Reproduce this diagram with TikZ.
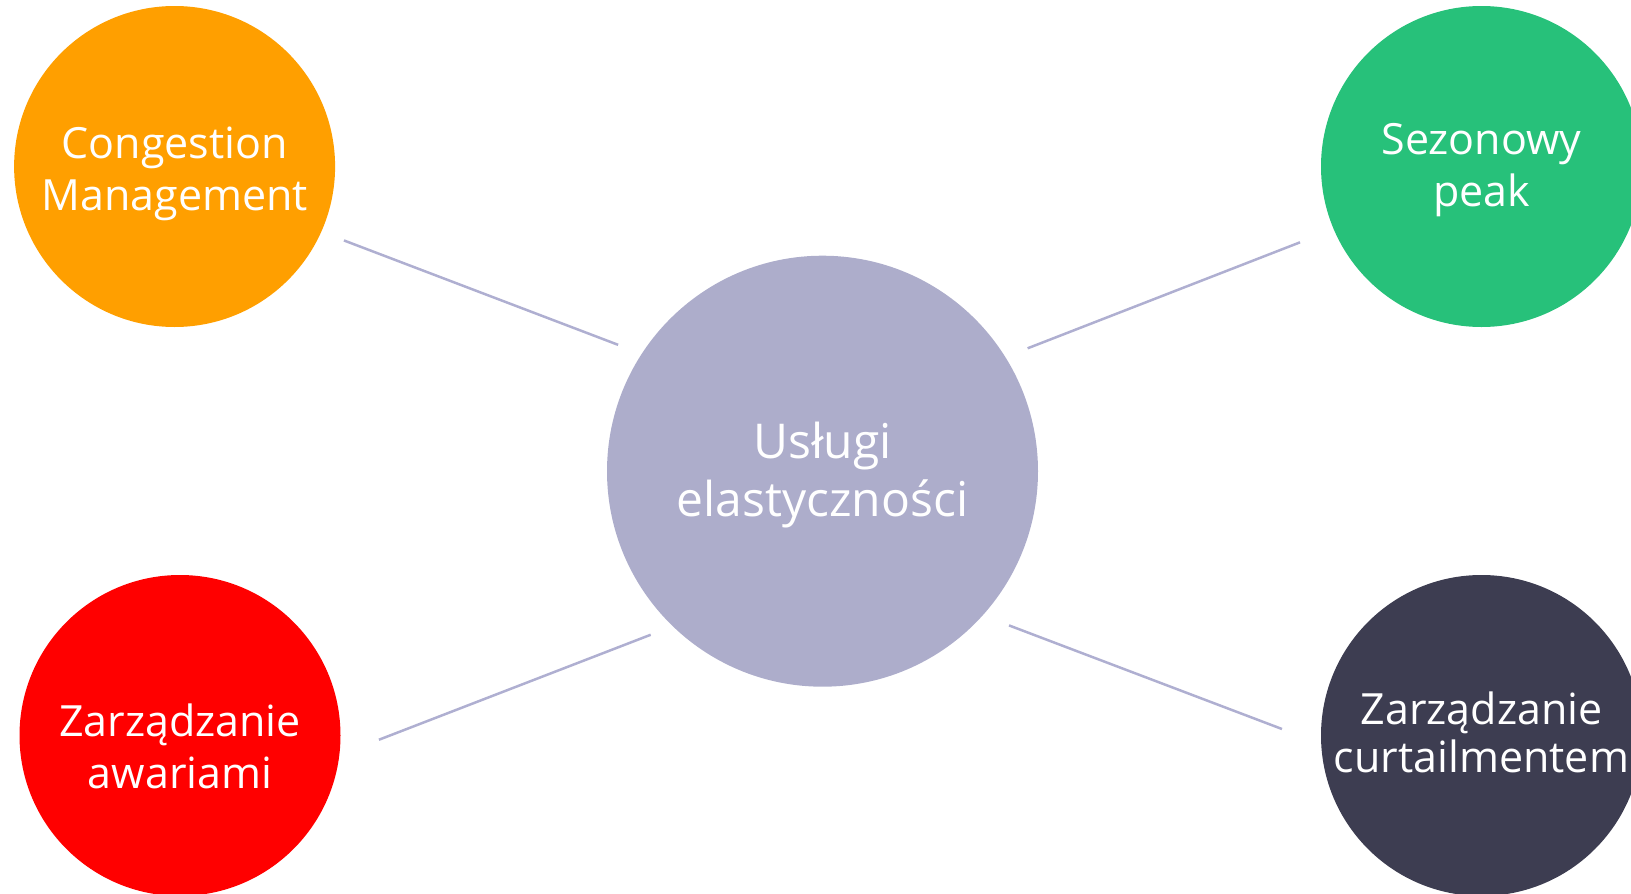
\documentclass[tikz,border=0pt]{standalone}
\usepackage{fontspec}
\setmainfont{Open Sans}
\usepackage{tikz}

\definecolor{congorange}{HTML}{FF9F00}
\definecolor{sezongreen}{HTML}{27C17A}
\definecolor{awarred}{HTML}{FF0000}
\definecolor{curtdark}{HTML}{3D3D51}
\definecolor{hubpurple}{HTML}{ADADCB}
\definecolor{linkpurple}{HTML}{AFAFD1}

\newcommand{\twolines}[2]{\begin{tabular}{@{}c@{}}#1\\#2\end{tabular}}

\begin{document}
\begin{tikzpicture}[x=1pt, y=-1pt]
	\clip (0,0) rectangle (1631,894);
	\begin{scope}[every node/.style = {circle, inner sep=0pt, outer sep=0pt, minimum size=321pt},
		every label/.append style={text=white, font=\fontsize{43}{52}\selectfont}]
		\node[fill=congorange, label={[yshift=-8pt]center:\twolines{Congestion}{Management}}] (cong) at (174.6,166.5) {};
		\node[fill=sezongreen, label={[yshift=-4pt]center:\twolines{Sezonowy}{peak}}] (sezon) at (1481.5,166.5) {};
		\node[fill=awarred, label={[yshift=-17pt]center:\twolines{Zarządzanie}{awariami}}] (awar) at (180,735.5) {};
		\node[fill=curtdark, label={[yshift=-3pt, font=\fontsize{43}{48}\selectfont]center:\twolines{Zarządzanie}{curtailmentem}}] (curt) at (1481.5,735.5) {};
		\node[fill=hubpurple, minimum size=431pt, label={[yshift=-5pt, font=\fontsize{48}{58}\selectfont]center:\twolines{Usługi}{elastyczności}}] (hub) at (822.5,471.2) {};
	\end{scope}
	\begin{scope}[every edge/.style={draw=linkpurple, line width=2.5pt}]
		\path (cong.-24.1) edge[shorten <=24.3pt, shorten >=25.3pt] (hub.147.3);
		\path (hub.32) edge[shorten <=24pt, shorten >=36.2pt] (sezon.203.7);
		\path (awar.-7.9) edge[shorten <=42.5pt, shorten >=23.7pt] (hub.226.4);
		\path (hub.-42) edge[shorten <=28.2pt, shorten >=42pt] (curt.183.9);
	\end{scope}
\end{tikzpicture}
\end{document}
